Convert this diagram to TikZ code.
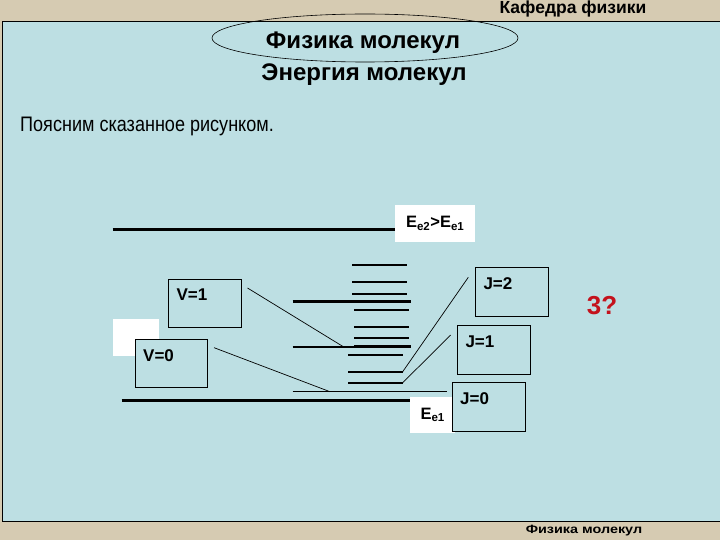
\documentclass[tikz,border=0pt]{standalone}
\usepackage{fontspec}
\setmainfont{Liberation Sans}
\definecolor{slide}{RGB}{189,223,227}
\definecolor{frame}{RGB}{214,203,178}
\definecolor{quest}{RGB}{196,18,28}

\begin{document}
\begin{tikzpicture}[x=1pt,y=-1pt,
    box/.style={draw=black, line width=0.8pt, fill=slide, anchor=north west, inner sep=0pt},
    tag/.style={font=\fontsize{17}{17}\selectfont\bfseries, anchor=north west, inner sep=0pt},
    lev/.style={line width=2pt},
    levthick/.style={line width=3pt},
    conn/.style={line width=0.7pt}]
    \useasboundingbox (0,0) rectangle (720,540);
    % Slide background
    \fill[frame] (0,0) rectangle (720,540);
    \filldraw[fill=slide, draw=black, line width=0.8pt] (2.5,21) rectangle (721,521);
    \node[font=\fontsize{17.5}{17.5}\selectfont\bfseries] (dept) at (573,9) {Кафедра физики};
    \node[font=\fontsize{12}{12}\selectfont\bfseries] (foot) at (584,531) {\scalebox{1.2}[1]{Физика молекул}};
    % Title
    \draw[line width=0.6pt] (365,38) ellipse [x radius=153, y radius=24];
    \node[font=\fontsize{24}{24}\selectfont\bfseries] (title) at (363,43) {Физика молекул};
    \node[font=\fontsize{24}{24}\selectfont\bfseries] (sub) at (364,75) {Энергия молекул};
    \node[font=\fontsize{21}{21}\selectfont, anchor=west, inner sep=0pt] (intro) at (20,126) {\scalebox{0.86}[1]{Поясним сказанное рисунком.}};
    % Electronic levels
    \draw[levthick] (112.7,229.3) -- (395,229.3);
    \draw[levthick] (121.7,400.3) -- (410,400.3);
    \node[fill=white, minimum width=80, minimum height=36.7, anchor=north west, inner sep=0pt] (ee2) at (395,205) {};
    \node[font=\fontsize{16.5}{16.5}\selectfont\bfseries] (ee2t) at (ee2.center) {E\textsubscript{e2}>E\textsubscript{e1}};
    \node[fill=white, minimum width=45, minimum height=36, anchor=north west, inner sep=0pt] (ee1) at (410,396.7) {};
    \node[font=\fontsize{16.5}{16.5}\selectfont\bfseries] (ee1t) at (ee1.center) {E\textsubscript{e1}};
    % Vibrational and rotational levels
    \draw[levthick] (292.7,301.3) -- (410.7,301.3);
    \draw[lev] (292.7,346.7) -- (410.7,346.7);
    \draw[levthick] (354,346.7) -- (410.7,346.7);
    \draw[line width=1.5pt] (292.7,391.3) -- (446.7,391.3);
    \foreach \y in {264.7,282,293.7}
    \draw[lev] (352,\y) -- (407,\y);
    \foreach \y in {309.7,326.7,338}
    \draw[lev] (354,\y) -- (409,\y);
    \foreach \y in {355,371.7,382.7}
    \draw[lev] (348,\y) -- (403,\y);
    % Boxes
    \fill[white] (112.7,319) rectangle (159.3,356);
    \node[box, minimum width=72.4, minimum height=48.3] (v1) at (168.3,279) {};
    \node[box, minimum width=72.3, minimum height=48] (v0) at (135,339.3) {};
    \node[box, minimum width=72.4, minimum height=48.4] (j2) at (475.3,267.3) {};
    \node[box, minimum width=72.4, minimum height=48.4] (j1) at (457.3,325.3) {};
    \node[box, minimum width=72.7, minimum height=48.7] (j0) at (452,382) {};
    \foreach \n/\t in {v1/V=1, v0/V=0, j2/J=2, j1/J=1, j0/J=0}
    \node[tag] (\n t) at ([shift={(8,10)}]\n.north west) {\t};
    % Connectors
    \coordinate (v1end) at (343.3,346.7);
    \coordinate (v0end) at (330,391.7);
    \coordinate (j2end) at (402.7,371.7);
    \coordinate (j1end) at (402.7,382.7);
    \draw[conn] ([shift={(6,9)}]v1.north east) -- (v1end);
    \draw[conn] ([shift={(6,8.4)}]v0.north east) -- (v0end);
    \draw[conn] ([shift={(-7,10)}]j2.north west) -- (j2end);
    \draw[conn] ([shift={(-6.6,9.7)}]j1.north west) -- (j1end);
    % Question
    \node[font=\fontsize{26}{26}\selectfont\bfseries, text=quest] (q) at (602,306) {3?};
\end{tikzpicture}
\end{document}
